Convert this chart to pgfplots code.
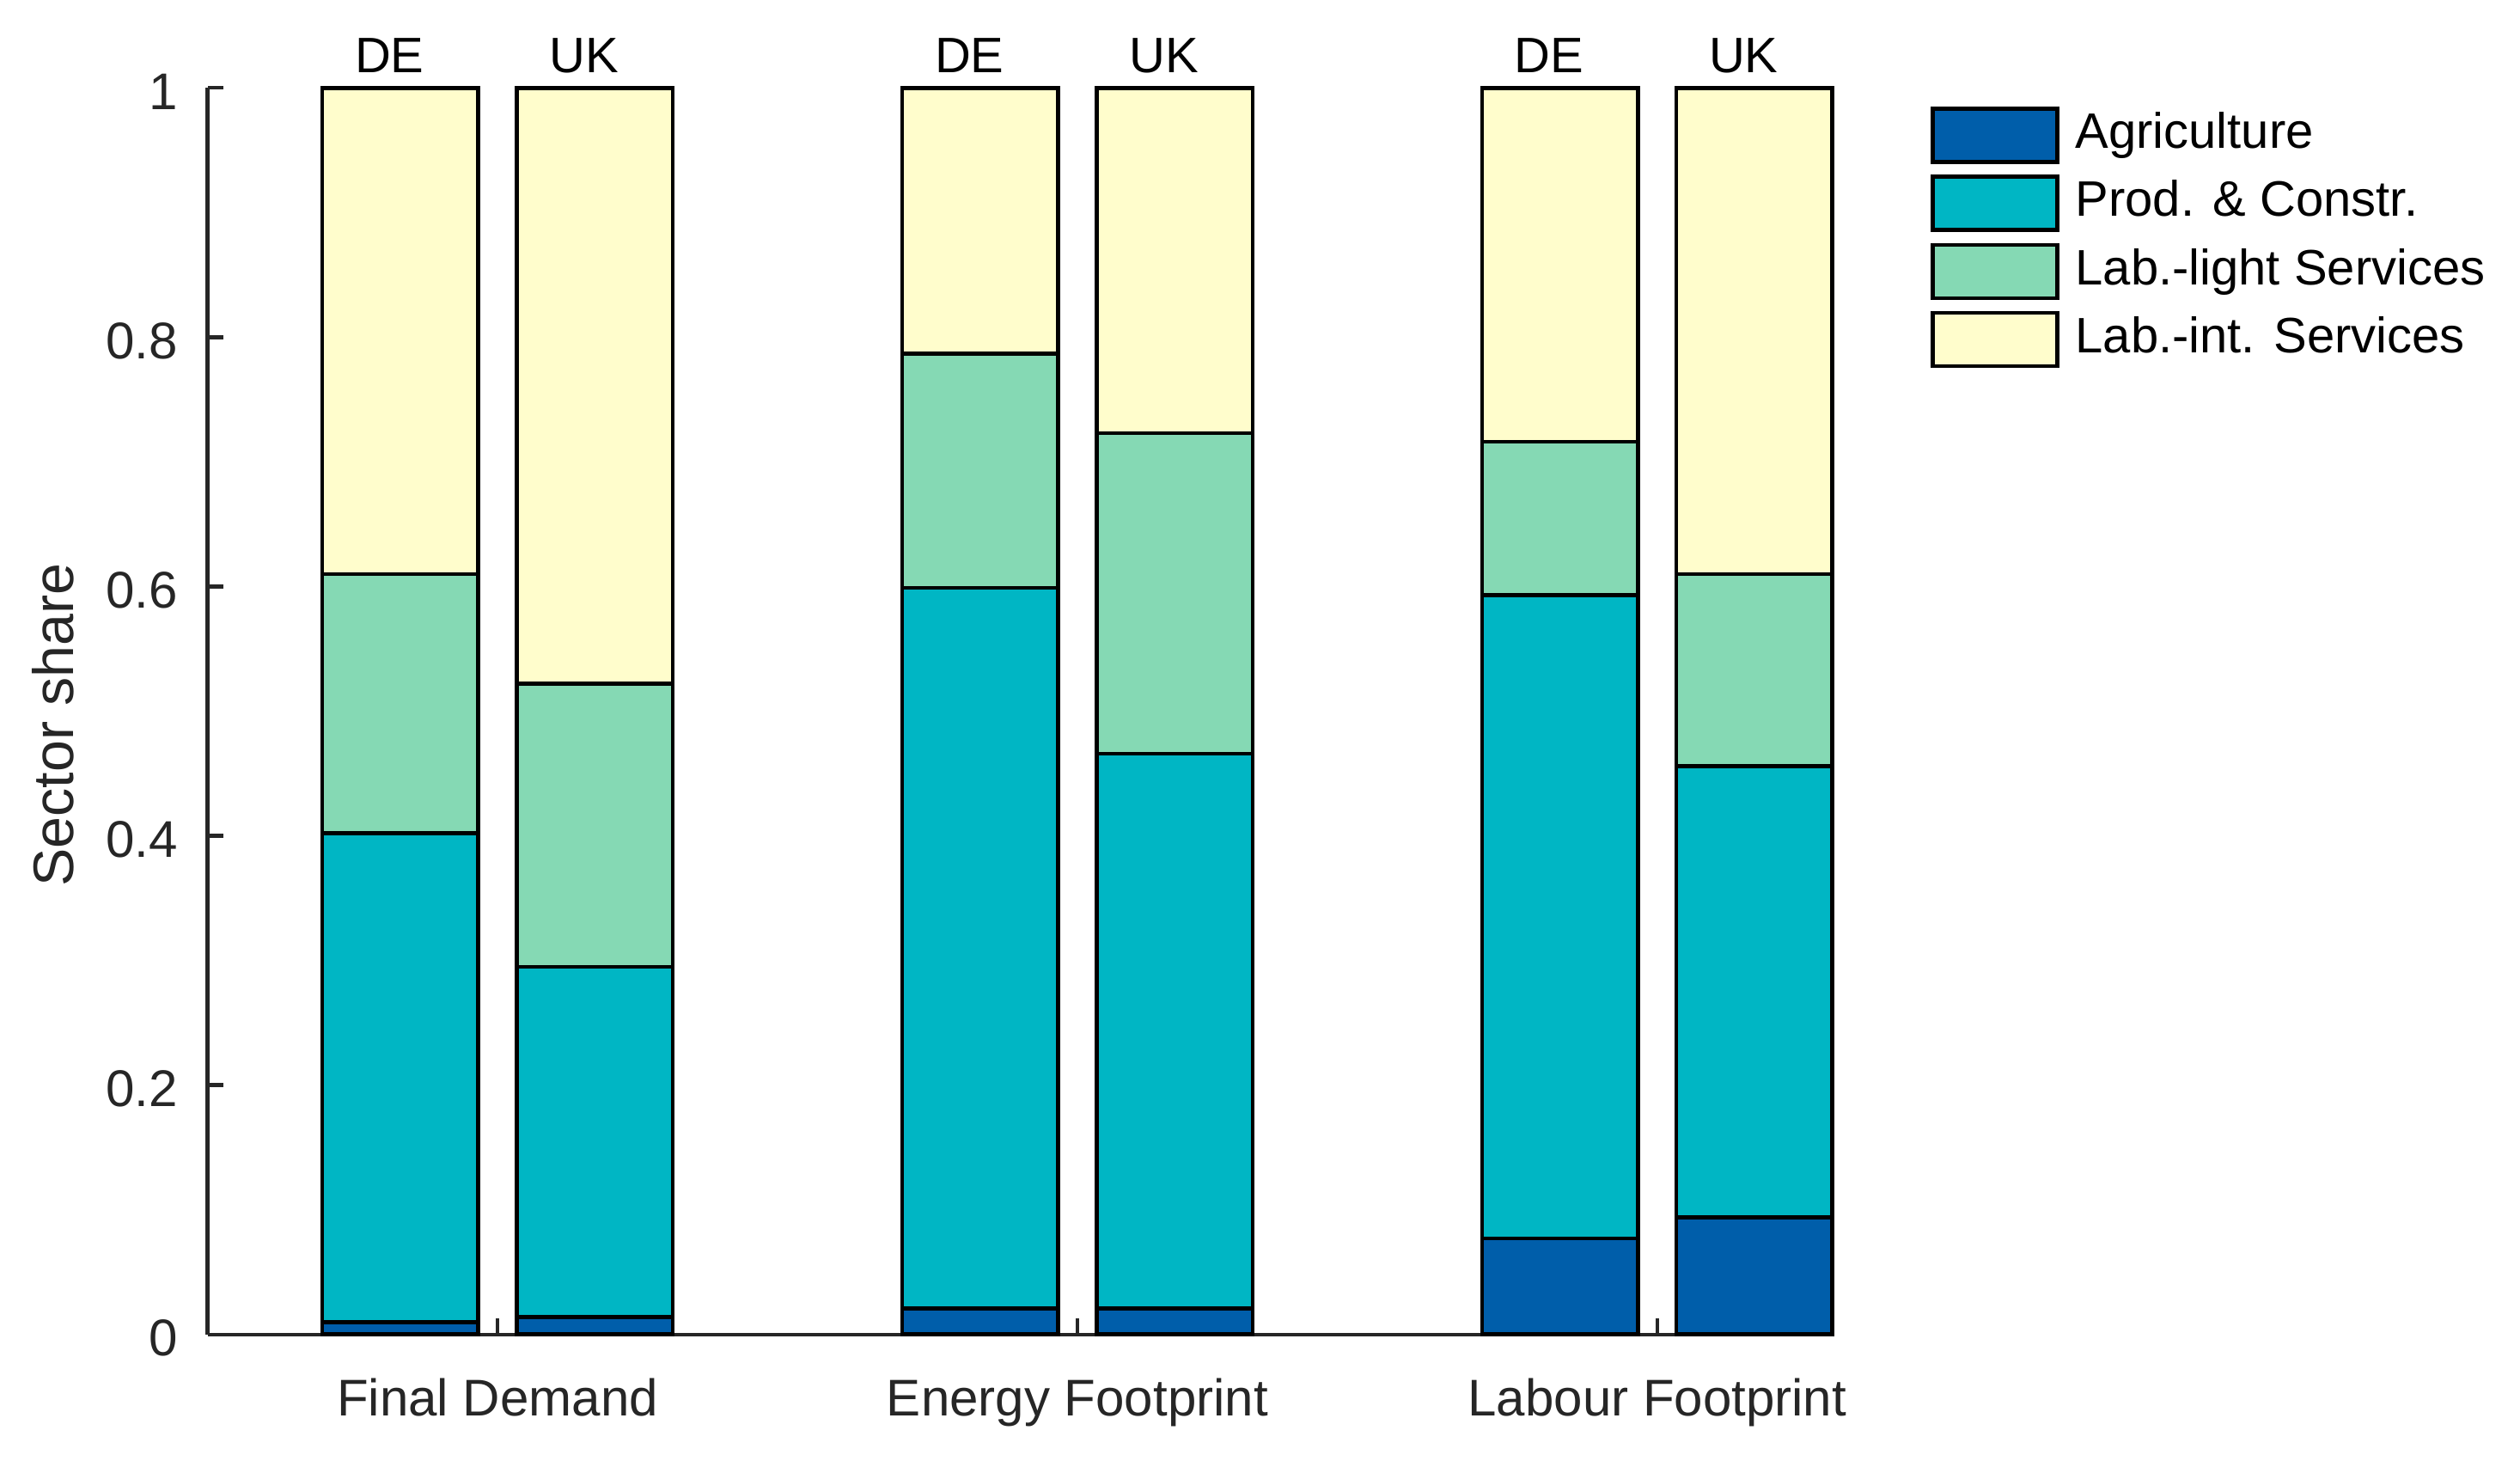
\documentclass[border=0pt]{standalone}
\usepackage{fontspec}
\setmainfont{Liberation Sans}
\usepackage{pgfplots}
\pgfplotsset{compat=1.18}
\usepackage{pgfplotstable}

\definecolor{agri}{RGB}{0,94,170}
\definecolor{prod}{RGB}{0,182,196}
\definecolor{light}{RGB}{133,217,180}
\definecolor{lint}{RGB}{255,253,204}
\definecolor{axgray}{RGB}{38,38,38}

% sector shares, DE / UK per group
\pgfplotstableread{
x      agri  prod  light int
0.8324 0.010 0.392 0.208 0.390
1.1676 0.014 0.281 0.227 0.478
1.8324 0.021 0.578 0.188 0.213
2.1676 0.021 0.445 0.257 0.277
2.8324 0.077 0.516 0.123 0.284
3.1676 0.094 0.362 0.154 0.390
}\shares

\begin{document}
\begin{tikzpicture}[country/.style={anchor=base, font=\fontsize{8.3}{10}\selectfont, yshift=2.5pt, xshift=-1.8pt}]
\path (-34.6pt,-21.05pt) rectangle (385.4pt,222.35pt);
\begin{axis}[
 at={(0,0)}, anchor=south west,
 scale only axis, width=270.6pt, height=207.7pt,
 ybar stacked, bar width=0.269,
 xmin=0.5, xmax=3.3, ymin=0, ymax=1,
 axis x line*=bottom, axis y line*=left,
 tick align=inside, major tick length=2.7pt,
 xtick={1,2,3},
 xticklabels={Final Demand,Energy Footprint,Labour Footprint},
 ytick={0,0.2,0.4,0.6,0.8,1},
 yticklabels={0,0.2,0.4,0.6,0.8,1},
 /pgf/number format/assume math mode=true,
 tick label style={font=\fontsize{8.6}{10}\selectfont, text=axgray},
 yticklabel style={anchor=east, inner sep=0pt, xshift=-4.8pt, yshift=-0.6pt},
 xticklabel style={anchor=base, yshift=-13.6pt},
 axis line style={axgray, line width=0.62pt},
 tick style={axgray, line width=0.62pt},
 ylabel={Sector share},
 ylabel style={at={(axis description cs:-0.0953,0.489)}, anchor=center,
   font=\fontsize{9.5}{11}\selectfont, text=axgray},
 clip=false,
 every axis plot post/.append style={
   legend image code/.code={\draw[##1, line width=0.65pt] (0pt,-4.45pt) rectangle (20.8pt,4.45pt);}},
 legend style={at={(axis description cs:1.0605,0.986)}, anchor=north west,
   draw=none, fill=none, inner sep=0pt, row sep=1.8pt,
   font=\fontsize{8.3}{10}\selectfont,
   nodes={inner sep=0.5pt, text height=6.2pt, text depth=1.8pt},
   /tikz/every odd column/.append style={column sep=2.2pt}},
 legend cell align=left,
]
\addplot[fill=agri, draw=black, line width=0.65pt] table[x=x, y=agri] {\shares};
\addlegendentry{Agriculture}
\addplot[fill=prod, draw=black, line width=0.65pt] table[x=x, y=prod] {\shares};
\addlegendentry{Prod. \& Constr.}
\addplot[fill=light, draw=black, line width=0.65pt] table[x=x, y=light] {\shares};
\addlegendentry{Lab.-light Services}
\addplot[fill=lint, draw=black, line width=0.65pt] table[x=x, y=int] {\shares};
\addlegendentry{Lab.-int. Services}

\node[country] at (axis cs:0.8324,1) {DE};
\node[country] at (axis cs:1.1676,1) {UK};
\node[country] at (axis cs:1.8324,1) {DE};
\node[country] at (axis cs:2.1676,1) {UK};
\node[country] at (axis cs:2.8324,1) {DE};
\node[country] at (axis cs:3.1676,1) {UK};
\end{axis}
\end{tikzpicture}
\end{document}
